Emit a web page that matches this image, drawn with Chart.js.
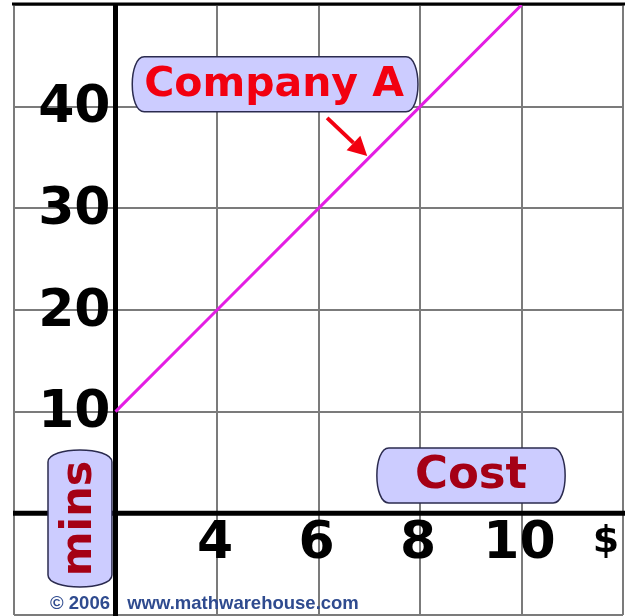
<!DOCTYPE html>
<html><head><meta charset="utf-8">
<script src="https://cdn.jsdelivr.net/npm/chart.js@4"></script>
<style>html,body{margin:0;padding:0;background:#fff}canvas{display:block}</style>
</head><body>
<canvas id="c" width="635" height="616" style="width:635px;height:616px"></canvas>
<script>
// ---- data ----
const costValues = [2, 4, 6, 8, 10];
const minuteValues = [10, 20, 30, 40, 50];
const seriesName = 'Company A';
const xTickValues = [4, 6, 8, 10];
const xTickLabels = ['4', '6', '8', '10'];
const yTickValues = [10, 20, 30, 40];
const yTickLabels = ['10', '20', '30', '40'];
const xUnitLabel = '$';
const xAxisTitle = 'Cost';
const yAxisTitle = 'mins';
const creditYear = '\u00A9 2006';
const creditSite = 'www.mathwarehouse.com';

// ---- layout (in data units) ----
const X_MIN = 0, X_MAX = 12, Y_MIN = -10, Y_MAX = 50;
const Y_AXIS_AT_X = 2, X_AXIS_AT_Y = 0;
const BOX_A = {x0: 2.33, x1: 7.96, y0: 44.9, y1: 39.5};
const BOX_COST = {x0: 7.15, x1: 10.86, y0: 6.43, y1: 1.02};
const BOX_MINS = {x0: 0.67, x1: 1.93, y0: 6.23, y1: -7.24};
const ARROW = {x0: 6.17, y0: 38.9, x1: 6.96, y1: 35.15};

const FILL = '#ccccff', EDGE = '#2b2b4f';
const RED = '#f20010', DARKRED = '#a50015';

function hPill(ctx, x0, y0, x1, y1, r) {
  ctx.beginPath();
  ctx.moveTo(x0 + r, y0);
  ctx.lineTo(x1 - r, y0);
  ctx.bezierCurveTo(x1 + r / 3, y0, x1 + r / 3, y1, x1 - r, y1);
  ctx.lineTo(x0 + r, y1);
  ctx.bezierCurveTo(x0 - r / 3, y1, x0 - r / 3, y0, x0 + r, y0);
  ctx.closePath();
}
function vPill(ctx, x0, y0, x1, y1, r) {
  ctx.beginPath();
  ctx.moveTo(x0, y0 + r);
  ctx.bezierCurveTo(x0, y0 - r / 3, x1, y0 - r / 3, x1, y0 + r);
  ctx.lineTo(x1, y1 - r);
  ctx.bezierCurveTo(x1, y1 + r / 3, x0, y1 + r / 3, x0, y1 - r);
  ctx.closePath();
}
function box(ctx, sx, sy, b, vertical) {
  const x0 = sx.getPixelForValue(b.x0), x1 = sx.getPixelForValue(b.x1);
  const y0 = sy.getPixelForValue(b.y0), y1 = sy.getPixelForValue(b.y1);
  if (vertical) vPill(ctx, x0, y0, x1, y1, 12); else hPill(ctx, x0, y0, x1, y1, 12);
  ctx.fillStyle = FILL; ctx.fill();
  ctx.lineWidth = 1.5; ctx.strokeStyle = EDGE; ctx.stroke();
  return {cx: (x0 + x1) / 2, cy: (y0 + y1) / 2};
}

const deco = {
  id: 'deco',
  beforeDatasetsDraw(chart) {
    const {ctx, chartArea: a, scales: {x, y}} = chart;
    ctx.save();
    ctx.strokeStyle = '#000';
    ctx.lineWidth = 3;
    const top = y.getPixelForValue(Y_MAX);
    ctx.beginPath(); ctx.moveTo(a.left - 2, top - 1); ctx.lineTo(a.right + 2, top - 1); ctx.stroke();
    ctx.lineWidth = 5;
    const px = x.getPixelForValue(Y_AXIS_AT_X), py = y.getPixelForValue(X_AXIS_AT_Y);
    ctx.beginPath(); ctx.moveTo(a.left - 1, py); ctx.lineTo(a.right + 2, py); ctx.stroke();
    ctx.beginPath(); ctx.moveTo(px, top - 2); ctx.lineTo(px, chart.height); ctx.stroke();
    ctx.restore();
  },
  afterDatasetsDraw(chart) {
    const {ctx, scales: {x, y}} = chart;
    const px = x.getPixelForValue(Y_AXIS_AT_X), py = y.getPixelForValue(X_AXIS_AT_Y);
    ctx.save();
    // tick labels
    ctx.fillStyle = '#000';
    ctx.font = 'bold 52px "DejaVu Sans"';
    ctx.textBaseline = 'middle';
    ctx.textAlign = 'right';
    yTickValues.forEach((v, i) => ctx.fillText(yTickLabels[i], px - 5, y.getPixelForValue(v) + 2));
    ctx.textAlign = 'center';
    xTickValues.forEach((v, i) => ctx.fillText(xTickLabels[i], x.getPixelForValue(v) - 2, py + 31));
    ctx.font = 'bold 38px "DejaVu Sans"';
    ctx.fillText(xUnitLabel, x.getPixelForValue(X_MAX) - 17, py + 29);

    // series label box
    let c = box(ctx, x, y, BOX_A, false);
    ctx.fillStyle = RED;
    ctx.font = 'bold 41px "DejaVu Sans"';
    ctx.fillText(seriesName, c.cx - 1, c.cy + 1);

    // arrow
    const ax0 = x.getPixelForValue(ARROW.x0), ay0 = y.getPixelForValue(ARROW.y0);
    const ax1 = x.getPixelForValue(ARROW.x1), ay1 = y.getPixelForValue(ARROW.y1);
    const ang = Math.atan2(ay1 - ay0, ax1 - ax0);
    const hl = 19, hw = 10;
    const bx = ax1 - hl * Math.cos(ang), by = ay1 - hl * Math.sin(ang);
    ctx.strokeStyle = RED; ctx.lineWidth = 4; ctx.lineCap = 'butt';
    ctx.beginPath(); ctx.moveTo(ax0, ay0); ctx.lineTo(bx, by); ctx.stroke();
    ctx.beginPath();
    ctx.moveTo(ax1, ay1);
    ctx.lineTo(bx + hw * Math.sin(ang), by - hw * Math.cos(ang));
    ctx.lineTo(bx - hw * Math.sin(ang), by + hw * Math.cos(ang));
    ctx.closePath(); ctx.fillStyle = RED; ctx.fill();

    // x axis title box
    c = box(ctx, x, y, BOX_COST, false);
    ctx.fillStyle = DARKRED;
    ctx.font = 'bold 45px "DejaVu Sans"';
    ctx.fillText(xAxisTitle, c.cx, c.cy + 1);

    // y axis title box
    c = box(ctx, x, y, BOX_MINS, true);
    ctx.save();
    ctx.translate(c.cx, c.cy);
    ctx.rotate(-Math.PI / 2);
    ctx.fillStyle = DARKRED;
    ctx.font = 'bold 43px "DejaVu Sans"';
    ctx.fillText(yAxisTitle, 0, 0);
    ctx.restore();

    // credits
    ctx.fillStyle = '#2f4b8f';
    ctx.font = 'bold 18.5px "Liberation Sans"';
    ctx.textAlign = 'left';
    ctx.fillText(creditYear, x.getPixelForValue(0.71), y.getPixelForValue(-8.95));
    ctx.fillText(creditSite, x.getPixelForValue(2.23), y.getPixelForValue(-8.95));
    ctx.restore();
  }
};

new Chart(document.getElementById('c'), {
  type: 'line',
  data: {
    datasets: [{
      label: seriesName,
      data: costValues.map((v, i) => ({x: v, y: minuteValues[i]})),
      borderColor: '#e41ee4',
      borderWidth: 3,
      pointRadius: 0,
      fill: false,
      tension: 0
    }]
  },
  options: {
    responsive: false,
    animation: false,
    devicePixelRatio: 1,
    layout: {padding: {left: 14, right: 12, top: 5, bottom: 1}},
    plugins: {legend: {display: false}, tooltip: {enabled: false}},
    scales: {
      x: {
        type: 'linear', min: X_MIN, max: X_MAX,
        ticks: {display: false, stepSize: 2},
        grid: {color: '#7b7b7b', lineWidth: 2, drawTicks: false},
        border: {display: false}
      },
      y: {
        type: 'linear', min: Y_MIN, max: Y_MAX,
        ticks: {display: false, stepSize: 10},
        grid: {color: '#7b7b7b', lineWidth: 2, drawTicks: false},
        border: {display: false}
      }
    }
  },
  plugins: [deco]
});
</script>
</body></html>
